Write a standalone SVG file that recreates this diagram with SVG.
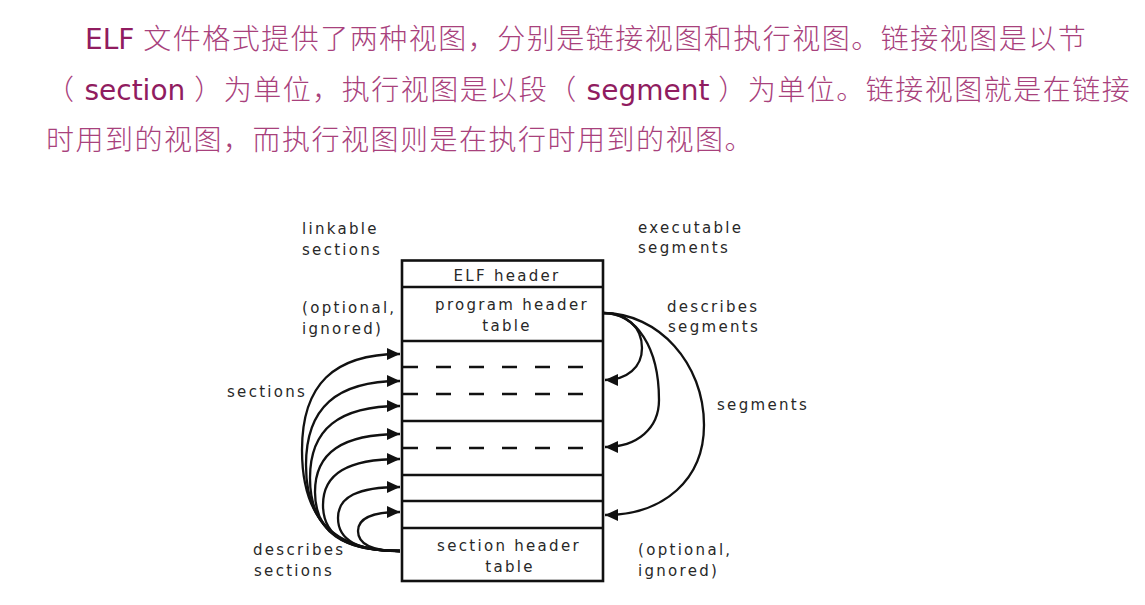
<svg xmlns="http://www.w3.org/2000/svg" width="1145" height="605" viewBox="0 0 1145 605">
<style>
.hd{font-family:"DejaVu Sans","Noto Sans CJK SC",sans-serif;font-size:28px;fill:#901c60}
.cj{font-family:"Noto Sans CJK SC",sans-serif;font-weight:300;letter-spacing:1.5px;fill:#a8417c}
.lb{font-family:"DejaVu Sans",sans-serif;font-size:15px;fill:#282828;letter-spacing:2.3px}
.mid{text-anchor:middle}
.bx{fill:none;stroke:#111;stroke-width:2.6}
.ln{stroke:#111;stroke-width:2.5}
.ds{stroke:#111;stroke-width:2.5;stroke-dasharray:15 18}
.cv{fill:none;stroke:#111;stroke-width:2.3;marker-end:url(#ah)}
</style>
<defs>
<marker id="ah" markerUnits="userSpaceOnUse" markerWidth="14" markerHeight="12" refX="13" refY="6" orient="auto">
<path d="M0,0 L13,6 L0,12 Z" fill="#111"/>
</marker>
</defs>
<rect width="1145" height="605" fill="#fff"/>
<g id="intro">
<text class="hd" x="85" y="49" xml:space="preserve"><tspan>ELF </tspan><tspan class="cj">文件格式提供了两种视图，分别是链接视图和执行视图。链接视图是以节</tspan></text>
<text class="hd" x="46" y="100" xml:space="preserve"><tspan class="cj">（</tspan><tspan> section </tspan><tspan class="cj">）为单位，执行视图是以段（</tspan><tspan> segment </tspan><tspan class="cj">）为单位。链接视图就是在链接</tspan></text>
<text class="hd" x="46" y="150"><tspan class="cj">时用到的视图，而执行视图则是在执行时用到的视图。</tspan></text>
</g>
<g id="elf-file">
<rect class="bx" x="402" y="260.5" width="201" height="320.5"/>
</g>
<g id="elf-header">
<line class="ln" x1="402" y1="287" x2="603" y2="287"/>
<text class="lb mid" x="507" y="281">ELF header</text>
</g>
<g id="program-header-table">
<line class="ln" x1="402" y1="341" x2="603" y2="341"/>
<text class="lb mid" x="512" y="310">program header</text>
<text class="lb mid" x="507" y="331">table</text>
</g>
<g id="sections">
<line class="ds" x1="403" y1="367" x2="590" y2="367"/>
<line class="ds" x1="403" y1="394" x2="590" y2="394"/>
<line class="ln" x1="402" y1="421" x2="603" y2="421"/>
<line class="ds" x1="403" y1="448" x2="590" y2="448"/>
<line class="ln" x1="402" y1="475" x2="603" y2="475"/>
<line class="ln" x1="402" y1="501" x2="603" y2="501"/>
<line class="ln" x1="402" y1="528" x2="603" y2="528"/>
</g>
<g id="section-header-table">
<text class="lb mid" x="509" y="551">section header</text>
<text class="lb mid" x="510" y="572">table</text>
</g>
<g id="labels">
<text class="lb" x="302" y="234">linkable</text>
<text class="lb" x="302" y="255">sections</text>
<text class="lb" x="302" y="313">(optional,</text>
<text class="lb" x="302" y="334">ignored)</text>
<text class="lb" x="227" y="397">sections</text>
<text class="lb" x="253" y="555">describes</text>
<text class="lb" x="254" y="576">sections</text>
<text class="lb" x="638" y="233">executable</text>
<text class="lb" x="638" y="253">segments</text>
<text class="lb" x="667" y="312">describes</text>
<text class="lb" x="668" y="332">segments</text>
<text class="lb" x="717" y="410">segments</text>
<text class="lb" x="638" y="555">(optional,</text>
<text class="lb" x="638" y="576">ignored)</text>
</g>
<g id="connectors">
<path class="cv" d="M400,551 C333.4,551 302,518.7 302,450 C302,384.7 333.4,354 400,354"/>
<path class="cv" d="M400,551 C336.1,551 306,523.5 306,465 C306,407.9 336.1,381 400,381"/>
<path class="cv" d="M400,551 C338.8,551 310,527.6 310,478 C310,429 338.8,406 400,406"/>
<path class="cv" d="M400,551 C342.2,551 315,532.1 315,492 C315,452.6 342.2,434 400,434"/>
<path class="cv" d="M400,551 C347.6,551 323,536.3 323,505 C323,473.7 347.6,459 400,459"/>
<path class="cv" d="M400,551 C357.8,551 338,540.4 338,518 C338,496.9 357.8,487 400,487"/>
<path class="cv" d="M400,551 C371.4,551 358,544.6 358,531 C358,518.1 371.4,512 400,512"/>
<path class="cv" d="M603,313 C626.4,313 642,327 642,348 C642,367.2 627.2,380 605,380"/>
<path class="cv" d="M603,313 C636.6,313 659,347.8 659,400 C659,428.2 637.4,447 605,447"/>
<path class="cv" d="M603,313 C658.6,313 704,363.4 704,425 C704,479 664.4,515 605,515"/>
</g>
</svg>
